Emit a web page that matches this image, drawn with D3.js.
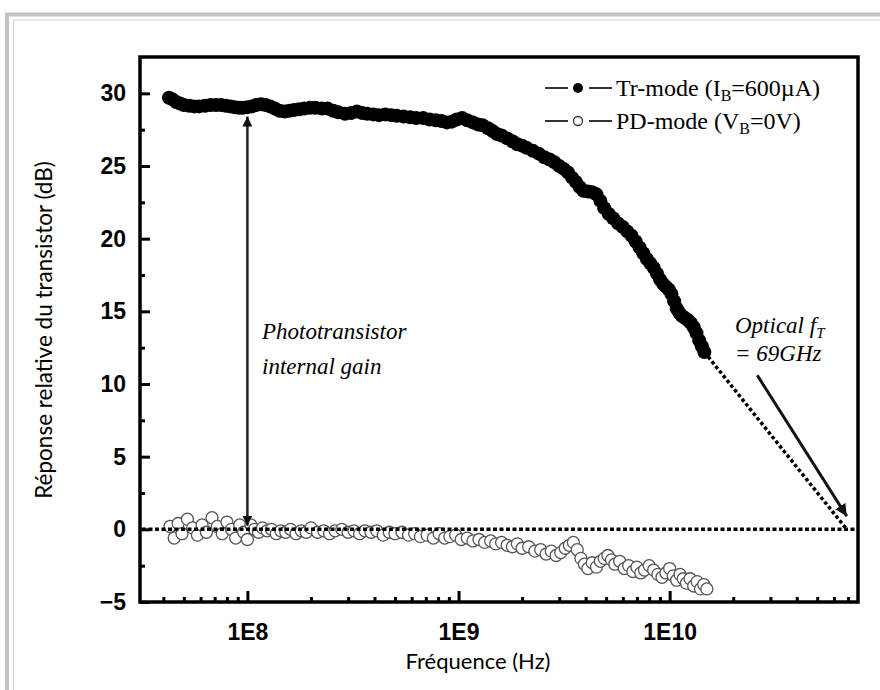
<!DOCTYPE html>
<html><head><meta charset="utf-8">
<script src="https://cdn.jsdelivr.net/npm/d3@7"></script>
<style>html,body{margin:0;padding:0;background:#fff;}svg{display:block;}</style>
</head><body>
<script>
// ---- data ----
const trFreq = [4.25e7,4.4e7,4.6e7,4.8e7,5.0e7,5.3e7,5.6e7,5.9e7,6.3e7,6.7e7,7.1e7,7.5e7,7.9e7,8.3e7,8.7e7,9.1e7,9.5e7,1.0e8,1.05e8,1.1e8,1.16e8,1.22e8,1.28e8,1.35e8,1.42e8,1.5e8,1.58e8,1.66e8,1.76e8,1.86e8,1.98e8,2.1e8,2.25e8,2.4e8,2.55e8,2.7e8,2.9e8,3.1e8,3.3e8,3.5e8,3.7e8,3.95e8,4.2e8,4.5e8,4.8e8,5.1e8,5.5e8,5.9e8,6.3e8,6.8e8,7.3e8,7.8e8,8.3e8,8.8e8,9.3e8,9.8e8,1.04e9,1.1e9,1.17e9,1.24e9,1.3e9,1.38e9,1.45e9,1.52e9,1.6e9,1.7e9,1.8e9,1.9e9,2.0e9,2.1e9,2.25e9,2.4e9,2.55e9,2.7e9,2.85e9,3.0e9,3.15e9,3.3e9,3.45e9,3.6e9,3.75e9,3.9e9,4.1e9,4.3e9,4.5e9,4.7e9,4.9e9,5.15e9,5.4e9,5.7e9,6.0e9,6.3e9,6.6e9,6.9e9,7.2e9,7.5e9,7.8e9,8.1e9,8.4e9,8.7e9,9.0e9,9.3e9,9.6e9,9.9e9,1.02e10,1.05e10,1.08e10,1.11e10,1.14e10,1.18e10,1.22e10,1.26e10,1.3e10,1.34e10,1.38e10,1.42e10,1.46e10];
const trDb = [29.7,29.6,29.4,29.3,29.2,29.15,29.1,29.1,29.15,29.2,29.2,29.2,29.15,29.1,29.05,29.0,29.0,29.05,29.1,29.2,29.25,29.2,29.1,28.95,28.8,28.75,28.8,28.85,28.9,28.95,29.0,29.0,28.95,28.95,28.8,28.7,28.6,28.65,28.75,28.65,28.6,28.55,28.5,28.55,28.5,28.45,28.4,28.35,28.3,28.3,28.2,28.15,28.1,28.0,28.05,28.2,28.3,28.15,28.0,27.85,27.8,27.6,27.4,27.2,27.1,26.9,26.7,26.5,26.4,26.25,26.05,25.85,25.6,25.45,25.25,25.0,24.8,24.55,24.2,23.9,23.55,23.3,23.25,23.2,23.05,22.6,22.1,21.7,21.4,21.05,20.8,20.5,20.2,19.8,19.4,19.0,18.6,18.3,18.0,17.6,17.2,16.9,16.7,16.5,16.2,15.7,15.2,14.9,14.7,14.55,14.4,14.2,13.9,13.5,13.0,12.6,12.2];
const pdFreq = [4.3e7,4.5e7,4.7e7,4.9e7,5.2e7,5.5e7,5.8e7,6.1e7,6.4e7,6.8e7,7.2e7,7.6e7,8.0e7,8.4e7,8.8e7,9.2e7,9.6e7,1.0e8,1.04e8,1.08e8,1.13e8,1.18e8,1.24e8,1.3e8,1.37e8,1.44e8,1.52e8,1.6e8,1.7e8,1.8e8,1.9e8,2.0e8,2.15e8,2.3e8,2.45e8,2.6e8,2.8e8,3.0e8,3.2e8,3.4e8,3.6e8,3.85e8,4.1e8,4.4e8,4.7e8,5.0e8,5.4e8,5.8e8,6.2e8,6.6e8,7.1e8,7.6e8,8.1e8,8.6e8,9.1e8,9.7e8,1.03e9,1.1e9,1.17e9,1.25e9,1.33e9,1.42e9,1.5e9,1.6e9,1.7e9,1.8e9,1.9e9,2.0e9,2.15e9,2.3e9,2.45e9,2.6e9,2.75e9,2.9e9,3.05e9,3.2e9,3.35e9,3.5e9,3.65e9,3.8e9,3.95e9,4.1e9,4.3e9,4.5e9,4.7e9,4.9e9,5.1e9,5.3e9,5.5e9,5.8e9,6.1e9,6.4e9,6.7e9,7.0e9,7.3e9,7.6e9,8.0e9,8.4e9,8.8e9,9.2e9,9.6e9,1.0e10,1.04e10,1.08e10,1.12e10,1.16e10,1.2e10,1.25e10,1.3e10,1.35e10,1.4e10,1.45e10,1.5e10];
const pdDb = [0.2,-0.6,0.4,-0.3,0.7,0.1,-0.4,0.3,-0.2,0.8,0.2,-0.3,0.5,0.0,-0.6,0.3,-0.2,-0.7,0.3,0.0,-0.2,0.1,-0.1,0.0,-0.3,-0.1,-0.2,0.0,-0.3,-0.1,-0.2,0.1,-0.2,-0.1,-0.3,-0.1,0.0,-0.2,-0.1,-0.3,-0.1,-0.2,-0.1,-0.4,-0.2,-0.3,-0.2,-0.4,-0.3,-0.5,-0.4,-0.6,-0.3,-0.6,-0.5,-0.4,-0.7,-0.6,-0.8,-0.7,-0.9,-0.8,-1.0,-0.9,-1.1,-1.2,-1.0,-1.3,-1.2,-1.5,-1.4,-1.7,-1.5,-1.8,-1.6,-1.3,-1.1,-0.9,-1.4,-2.0,-2.4,-2.7,-2.3,-2.6,-2.2,-2.0,-1.8,-2.1,-2.4,-2.2,-2.7,-2.5,-2.9,-2.6,-3.0,-2.8,-2.5,-2.8,-3.1,-3.3,-3.0,-2.7,-3.2,-3.5,-3.1,-3.4,-3.7,-3.4,-3.9,-3.6,-4.1,-3.8,-4.1];
const yMajorTicks = [-5,0,5,10,15,20,25,30];
const yMinorTicks = [-2.5,2.5,7.5,12.5,17.5,22.5,27.5];
const xMajorTicks = [1e8,1e9,1e10];
const xTickLabels = ["1E8","1E9","1E10"];
const xMinorTicks = [4e7,5e7,6e7,7e7,8e7,9e7,2e8,3e8,4e8,5e8,6e8,7e8,8e8,9e8,2e9,3e9,4e9,5e9,6e9,7e9,8e9,9e9,2e10,3e10,4e10,5e10,6e10,7e10];
const legendLabels = [["Tr-mode (I","B","=600\u00b5A)"],["PD-mode (V","B","=0V)"]];
const extrapolation = [[1.46e10,12.2],[6.9e10,0]];
const gainArrow = [[1e8,28.4],[1e8,0.25]];
const fTArrow = [[2.6e10,10.6],[6.9e10,0.9]];

// ---- layout ----
const W = 880, H = 690;
const svg = d3.select("body").append("svg").attr("width", W).attr("height", H);
const x = d3.scaleLog().domain([3.1e7, 7.8e10]).range([140, 858]);
const y = d3.scaleLinear().domain([-5, 32.5]).range([602, 57]);

// frame
svg.append("rect").attr("x",7).attr("y",14.5).attr("width",900).attr("height",700)
  .attr("fill","none").attr("stroke","#c3c3c3").attr("stroke-width",4);
svg.append("rect").attr("x",13.5).attr("y",20).attr("width",900).attr("height",700)
  .attr("fill","none").attr("stroke","#d4d4d4").attr("stroke-width",1);

const defs = svg.append("defs");
defs.append("marker").attr("id","ah").attr("viewBox","0 0 10 10").attr("refX",10).attr("refY",5)
  .attr("markerWidth",4).attr("markerHeight",4).attr("markerUnits","strokeWidth").attr("orient","auto-start-reverse")
  .append("path").attr("d","M0,0 L10,5 L0,10 z").attr("fill","#111");

// axes
const tickFont = "'Liberation Sans', Arial, sans-serif";
function styleAxis(g){
  g.select(".domain").remove();
  g.selectAll(".tick line").attr("stroke","#000").attr("stroke-width",3);
  g.selectAll("text").attr("font-family",tickFont).attr("font-weight","bold").attr("font-size",23).attr("fill","#000");
}
svg.append("g").attr("transform","translate(140,0)")
  .call(d3.axisLeft(y).tickValues(yMajorTicks).tickSize(-10).tickPadding(14).tickFormat(d3.format("d")))
  .call(styleAxis);
svg.append("g").attr("transform","translate(140,0)")
  .call(d3.axisLeft(y).tickValues(yMinorTicks).tickSize(-5).tickFormat(""))
  .call(styleAxis);
svg.append("g").attr("transform","translate(0,602)")
  .call(d3.axisBottom(x).tickValues(xMajorTicks).tickSize(-11).tickPadding(22).tickFormat((d,i)=>xTickLabels[i]))
  .call(styleAxis);
svg.append("g").attr("transform","translate(0,602)")
  .call(d3.axisBottom(x).tickValues(xMinorTicks).tickSize(-5).tickFormat(""))
  .call(styleAxis);

// box
svg.append("rect").attr("x",140).attr("y",57).attr("width",718).attr("height",545)
  .attr("fill","none").attr("stroke","#000").attr("stroke-width",3.5);

// PD data
svg.append("g").selectAll("circle").data(pdFreq.map((f,i)=>[f,pdDb[i]])).join("circle")
  .attr("cx",d=>x(d[0])).attr("cy",d=>y(d[1])).attr("r",6)
  .attr("fill","#fff").attr("stroke","#555").attr("stroke-width",1.3);

// zero line
svg.append("line").attr("x1",x(3.1e7)+2).attr("x2",x(7.8e10)-2).attr("y1",y(0)).attr("y2",y(0))
  .attr("stroke","#000").attr("stroke-width",3.5).attr("stroke-dasharray","4,2.5");

// extrapolation
svg.append("line").attr("x1",x(extrapolation[0][0])).attr("y1",y(extrapolation[0][1]))
  .attr("x2",x(extrapolation[1][0])).attr("y2",y(extrapolation[1][1]))
  .attr("stroke","#000").attr("stroke-width",3.5).attr("stroke-dasharray","3.5,2.5");

// Tr data
svg.append("g").selectAll("circle").data(trFreq.map((f,i)=>[f,trDb[i]])).join("circle")
  .attr("cx",d=>x(d[0])).attr("cy",d=>y(d[1])).attr("r",7).attr("fill","#000");

// gain arrow
svg.append("line").attr("x1",x(gainArrow[0][0])).attr("y1",y(gainArrow[0][1]))
  .attr("x2",x(gainArrow[1][0])).attr("y2",y(gainArrow[1][1]))
  .attr("stroke","#222").attr("stroke-width",2.5)
  .attr("marker-start","url(#ah)").attr("marker-end","url(#ah)");

// fT arrow
svg.append("line").attr("x1",x(fTArrow[0][0])).attr("y1",y(fTArrow[0][1]))
  .attr("x2",x(fTArrow[1][0])).attr("y2",y(fTArrow[1][1]))
  .attr("stroke","#111").attr("stroke-width",3).attr("marker-end","url(#ah)");

// annotations
const serif = "'Liberation Serif', 'Times New Roman', serif";
const ann = svg.append("g").attr("font-family",serif).attr("font-style","italic").attr("font-size",23).attr("fill","#000");
ann.append("text").attr("x",262).attr("y",339).text("Phototransistor");
ann.append("text").attr("x",262).attr("y",374).text("internal gain");
const t1 = ann.append("text").attr("x",735).attr("y",333);
t1.append("tspan").text("Optical ");
t1.append("tspan").text("f");
t1.append("tspan").attr("font-size",15).attr("dy",5).text("T");
ann.append("text").attr("x",735).attr("y",361).text("= 69GHz");

// legend
const lg = svg.append("g").attr("font-family",serif).attr("font-size",24).attr("fill","#000");
[88,121].forEach((ly,i)=>{
  lg.append("line").attr("x1",545).attr("x2",568).attr("y1",ly).attr("y2",ly).attr("stroke","#000").attr("stroke-width",1.6);
  lg.append("line").attr("x1",589).attr("x2",612).attr("y1",ly).attr("y2",ly).attr("stroke","#000").attr("stroke-width",1.6);
  if(i===0) lg.append("circle").attr("cx",578).attr("cy",ly).attr("r",5).attr("fill","#000");
  else lg.append("circle").attr("cx",578).attr("cy",ly).attr("r",4.5).attr("fill","#fff").attr("stroke","#333").attr("stroke-width",1.3);
  const t = lg.append("text").attr("x",616).attr("y",ly+8);
  t.append("tspan").text(legendLabels[i][0]);
  t.append("tspan").attr("font-size",16).attr("dy",5).text(legendLabels[i][1]);
  t.append("tspan").attr("dy",-5).text(legendLabels[i][2]);
});

// axis titles
const sans = "Lato, 'Open Sans', sans-serif";
svg.append("text").attr("transform","translate(52,330) rotate(-90)").attr("text-anchor","middle")
  .attr("font-family",sans).attr("font-size",22.5).attr("fill","#000").text("Réponse relative du transistor (dB)");
svg.append("text").attr("x",478).attr("y",669).attr("text-anchor","middle")
  .attr("font-family",sans).attr("font-size",22).attr("fill","#000").text("Fréquence (Hz)");
</script>
</body></html>
